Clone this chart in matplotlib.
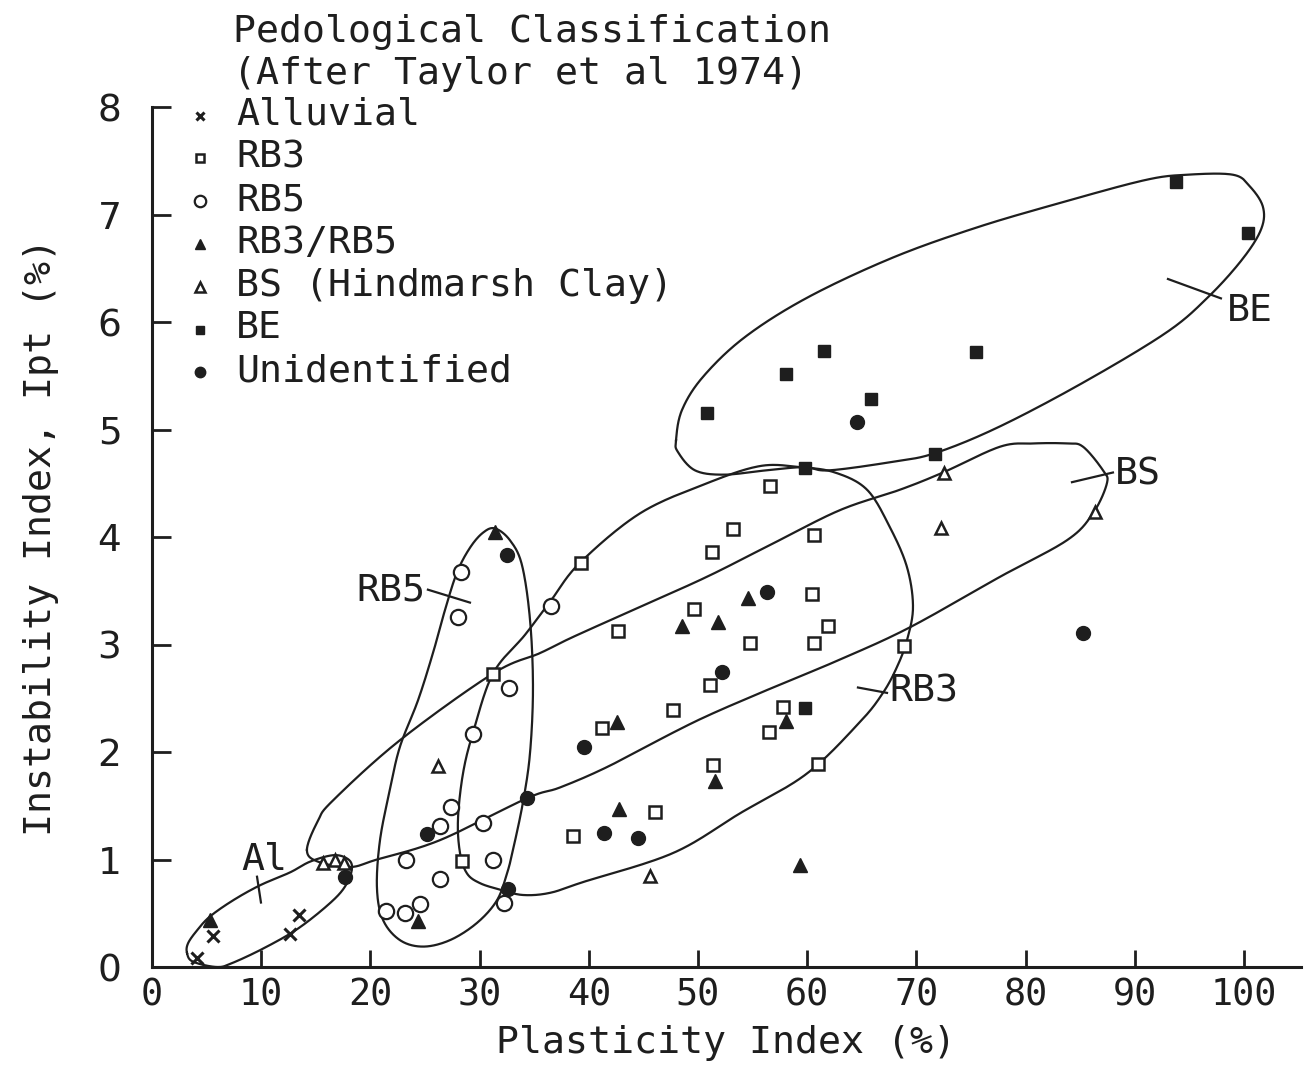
import numpy as np
import matplotlib
matplotlib.use("Agg")
import matplotlib.pyplot as plt

# ---------------- data ----------------
alluvial_x = [4.1, 5.6, 12.6, 13.5]
alluvial_y = [0.08, 0.29, 0.31, 0.48]

rb3_x = [31.2, 28.4, 56.6, 53.2, 60.6, 51.3, 39.3, 60.4, 49.6, 42.7, 61.9, 54.8,
         60.6, 51.1, 47.7, 57.8, 56.5, 41.2, 51.4, 61.0, 46.1, 38.6, 68.9]
rb3_y = [2.73, 0.99, 4.47, 4.07, 4.02, 3.86, 3.76, 3.47, 3.33, 3.13, 3.17, 3.01,
         3.01, 2.62, 2.39, 2.42, 2.19, 2.22, 1.88, 1.89, 1.44, 1.22, 2.99]

rb5_x = [28.3, 28.0, 36.5, 32.7, 29.4, 27.4, 26.4, 30.3, 23.3, 31.2, 26.4, 32.2,
         24.5, 23.2, 21.4]
rb5_y = [3.67, 3.26, 3.36, 2.60, 2.17, 1.49, 1.31, 1.34, 1.00, 1.00, 0.82, 0.60,
         0.59, 0.50, 0.52]

rb35_x = [5.3, 24.4, 31.4, 54.6, 48.5, 51.8, 42.6, 58.1, 51.6, 42.8, 59.3]
rb35_y = [0.44, 0.43, 4.05, 3.43, 3.17, 3.21, 2.28, 2.29, 1.73, 1.47, 0.95]

bs_x = [15.7, 16.8, 17.6, 26.2, 45.6, 72.5, 72.3, 86.4]
bs_y = [0.97, 1.00, 0.97, 1.87, 0.85, 4.60, 4.08, 4.23]

be_x = [93.8, 100.4, 61.5, 75.5, 58.1, 65.8, 50.8, 71.7, 59.8, 59.8]
be_y = [7.30, 6.83, 5.73, 5.72, 5.52, 5.28, 5.15, 4.77, 4.64, 2.41]

unid_x = [17.7, 32.5, 25.2, 34.3, 32.6, 56.3, 52.2, 39.6, 41.4, 44.5, 64.6, 85.3]
unid_y = [0.84, 3.83, 1.24, 1.57, 0.73, 3.49, 2.74, 2.05, 1.25, 1.20, 5.07, 3.11]

# hand-drawn group outlines (closed curves through these points)
al_outline_x = [3.21, 3.30, 4.12, 5.31, 7.42, 9.89, 12.64, 14.47, 16.58, 17.86, 18.32,
                17.86, 16.58, 13.55, 10.53, 7.42, 5.95, 3.75]
al_outline_y = [0.13, 0.22, 0.34, 0.47, 0.62, 0.76, 0.88, 0.98, 1.04, 1.01, 0.93,
                0.78, 0.62, 0.37, 0.19, 0.04, 0.00, 0.05]

rb5_outline_x = [31.41, 32.78, 33.88, 34.62, 34.89, 34.62, 33.97, 33.06, 32.51, 31.59,
                 29.76, 27.29, 24.82, 22.71, 21.15, 20.60, 20.88, 21.79, 22.71, 24.36,
                 25.73, 26.83, 27.93, 29.12, 30.31]
rb5_outline_y = [4.08, 3.97, 3.74, 3.23, 2.60, 1.99, 1.53, 1.09, 0.87, 0.62,
                 0.41, 0.25, 0.19, 0.25, 0.44, 0.74, 1.18, 1.65, 2.05, 2.48,
                 2.92, 3.32, 3.67, 3.90, 4.04]

rb3_outline_x = [59.34, 55.68, 50.82, 44.69, 39.19, 36.54, 34.16, 31.23, 29.40, 28.48,
                 28.02, 28.21, 28.85, 30.04, 31.87, 33.97, 36.45, 39.47, 47.71, 53.85,
                 59.98, 64.84, 66.94, 68.22, 69.14, 69.69, 69.14, 67.58, 65.48, 62.55]
rb3_outline_y = [4.65, 4.66, 4.50, 4.22, 3.76, 3.41, 3.09, 2.73, 2.18, 1.80,
                 1.37, 1.06, 0.87, 0.78, 0.72, 0.67, 0.69, 0.79, 1.06, 1.43,
                 1.80, 2.28, 2.55, 2.79, 3.04, 3.35, 3.72, 4.09, 4.44, 4.60]

bs_outline_x = [14.19, 15.20, 16.58, 22.71, 31.23, 35.53, 38.55, 44.69, 50.82, 56.87,
                63.00, 68.50, 72.44, 77.66, 80.68, 83.79, 85.26, 87.09, 87.45, 86.17,
                83.79, 77.66, 69.41, 63.00, 56.87, 51.37, 47.71, 41.67, 37.36, 34.34,
                26.37, 20.60, 18.13, 15.20]
bs_outline_y = [1.09, 1.36, 1.55, 2.11, 2.73, 2.92, 3.07, 3.35, 3.63, 3.94,
                4.25, 4.44, 4.60, 4.84, 4.87, 4.87, 4.84, 4.62, 4.50, 4.22,
                3.97, 3.63, 3.16, 2.86, 2.60, 2.36, 2.18, 1.86, 1.67, 1.57,
                1.18, 1.00, 0.93, 0.98]

be_outline_x = [47.99, 48.17, 49.73, 52.38, 56.23, 59.71, 62.00, 67.86, 71.70, 77.47,
                85.16, 92.86, 96.70, 99.82, 101.56, 101.74, 100.55, 98.99, 94.78, 90.93,
                83.24, 75.55, 67.86, 60.07, 54.30, 50.46, 48.53]
be_outline_y = [4.90, 4.79, 4.62, 4.58, 4.62, 4.65, 4.62, 4.70, 4.78, 5.02,
                5.43, 5.90, 6.23, 6.58, 6.86, 7.07, 7.26, 7.37, 7.37, 7.32,
                7.11, 6.88, 6.60, 6.23, 5.86, 5.49, 5.18]

legend_title = ["Pedological Classification", "(After Taylor et al 1974)"]
legend_labels = ["Alluvial", "RB3", "RB5", "RB3/RB5", "BS (Hindmarsh Clay)", "BE",
                 "Unidentified"]
x_ticks = [0, 10, 20, 30, 40, 50, 60, 70, 80, 90, 100]
y_ticks = [0, 1, 2, 3, 4, 5, 6, 7, 8]

# ---------------- helpers ----------------
def closed_spline(xs, ys, n=24):
    P = np.column_stack([xs, ys])
    m = len(P)
    out = []
    t = np.linspace(0, 1, n, endpoint=False)[:, None]
    for i in range(m):
        p0, p1, p2, p3 = P[(i - 1) % m], P[i], P[(i + 1) % m], P[(i + 2) % m]
        seg = 0.5 * ((2 * p1) + (-p0 + p2) * t + (2 * p0 - 5 * p1 + 4 * p2 - p3) * t ** 2
                     + (-p0 + 3 * p1 - 3 * p2 + p3) * t ** 3)
        out.append(seg)
    out = np.vstack(out)
    out = np.vstack([out, out[:1]])
    return out[:, 0], out[:, 1]

INK = "#1e1e1e"
MONO = "DejaVu Sans Mono"
FS = 27.5

fig = plt.figure(figsize=(13.09, 10.69), dpi=100)
ax = fig.add_axes([0.1161, 0.0954, 0.8776, 0.8045])
ax.set_xlim(0, 105.2)
ax.set_ylim(0, 8)

for sp in ["top", "right"]:
    ax.spines[sp].set_visible(False)
for sp in ["left", "bottom"]:
    ax.spines[sp].set_linewidth(2.2)
    ax.spines[sp].set_color(INK)

ax.set_xticks(x_ticks)
ax.set_yticks(y_ticks)
ax.set_xticklabels([str(v) for v in x_ticks], fontfamily=MONO, fontsize=26.5)
ax.set_yticklabels([str(v) for v in y_ticks], fontfamily="DejaVu Sans", fontsize=27)
ax.tick_params(axis="x", direction="in", length=12, width=2, color=INK, pad=7,
               labelcolor=INK)
ax.tick_params(axis="y", direction="in", length=14, width=2, color=INK, pad=22,
               labelcolor=INK)

ax.set_xlabel("Plasticity Index (%)", fontfamily=MONO, fontsize=FS, color=INK,
              labelpad=8)
ax.set_ylabel("Instability Index, Ipt (%)", fontfamily=MONO, fontsize=FS, color=INK,
              labelpad=28)

# outlines
for ox, oy in [(al_outline_x, al_outline_y), (rb5_outline_x, rb5_outline_y),
               (rb3_outline_x, rb3_outline_y), (bs_outline_x, bs_outline_y),
               (be_outline_x, be_outline_y)]:
    sx, sy = closed_spline(ox, oy)
    ax.plot(sx, sy, color=INK, lw=1.6, zorder=2, clip_on=False)

# group labels with leader lines
lab_kw = dict(fontfamily=MONO, fontsize=FS, color=INK, va="center")
ax.text(10.3, 1.0, "Al", ha="center", **lab_kw)
ax.plot([9.62, 9.98], [0.84, 0.60], color=INK, lw=1.6)
ax.text(25.0, 3.5, "RB5", ha="right", **lab_kw)
ax.plot([25.27, 29.12], [3.51, 3.39], color=INK, lw=1.6)
ax.text(67.5, 2.56, "RB3", ha="left", **lab_kw)
ax.plot([64.65, 67.31], [2.60, 2.55], color=INK, lw=1.6)
ax.text(88.2, 4.58, "BS", ha="left", **lab_kw)
ax.plot([84.25, 88.0], [4.51, 4.60], color=INK, lw=1.6)
ax.text(98.4, 6.1, "BE", ha="left", **lab_kw)
ax.plot([93.04, 97.89], [6.40, 6.22], color=INK, lw=1.6)

# markers
styles = [
    (alluvial_x, alluvial_y, dict(marker="x", ms=8, mew=2.2, mec=INK)),
    (rb3_x, rb3_y, dict(marker="s", ms=8.5, mew=1.8, mec=INK, mfc="white")),
    (rb5_x, rb5_y, dict(marker="o", ms=11, mew=1.6, mec=INK, mfc="white")),
    (rb35_x, rb35_y, dict(marker="^", ms=9.5, mew=1, mec=INK, mfc=INK)),
    (bs_x, bs_y, dict(marker="^", ms=9, mew=1.8, mec=INK, mfc="white")),
    (be_x, be_y, dict(marker="s", ms=8, mew=1, mec=INK, mfc=INK)),
    (unid_x, unid_y, dict(marker="o", ms=10, mew=1, mec=INK, mfc=INK)),
]
for xs, ys, st in styles:
    ax.plot(xs, ys, ls="none", zorder=4, clip_on=False, **st)

# manual legend (above and inside top-left)
tx = 7.42
ax.text(tx, 8.70, legend_title[0], fontfamily=MONO, fontsize=FS, color=INK,
        va="center", ha="left", clip_on=False)
ax.text(tx, 8.31, legend_title[1], fontfamily=MONO, fontsize=FS, color=INK,
        va="center", ha="left", clip_on=False)
y0, dy = 7.93, 0.398
for i, (lab, (_, _, st)) in enumerate(zip(legend_labels, styles)):
    yy = y0 - i * dy
    st2 = dict(st)
    st2["ms"] = st["ms"] * 0.75
    ax.plot([4.4], [yy - 0.01], ls="none", clip_on=False, zorder=4, **st2)
    ax.text(7.69, yy, lab, fontfamily=MONO, fontsize=FS, color=INK, va="center",
            ha="left", clip_on=False)

fig.savefig("out.png", dpi=100)
